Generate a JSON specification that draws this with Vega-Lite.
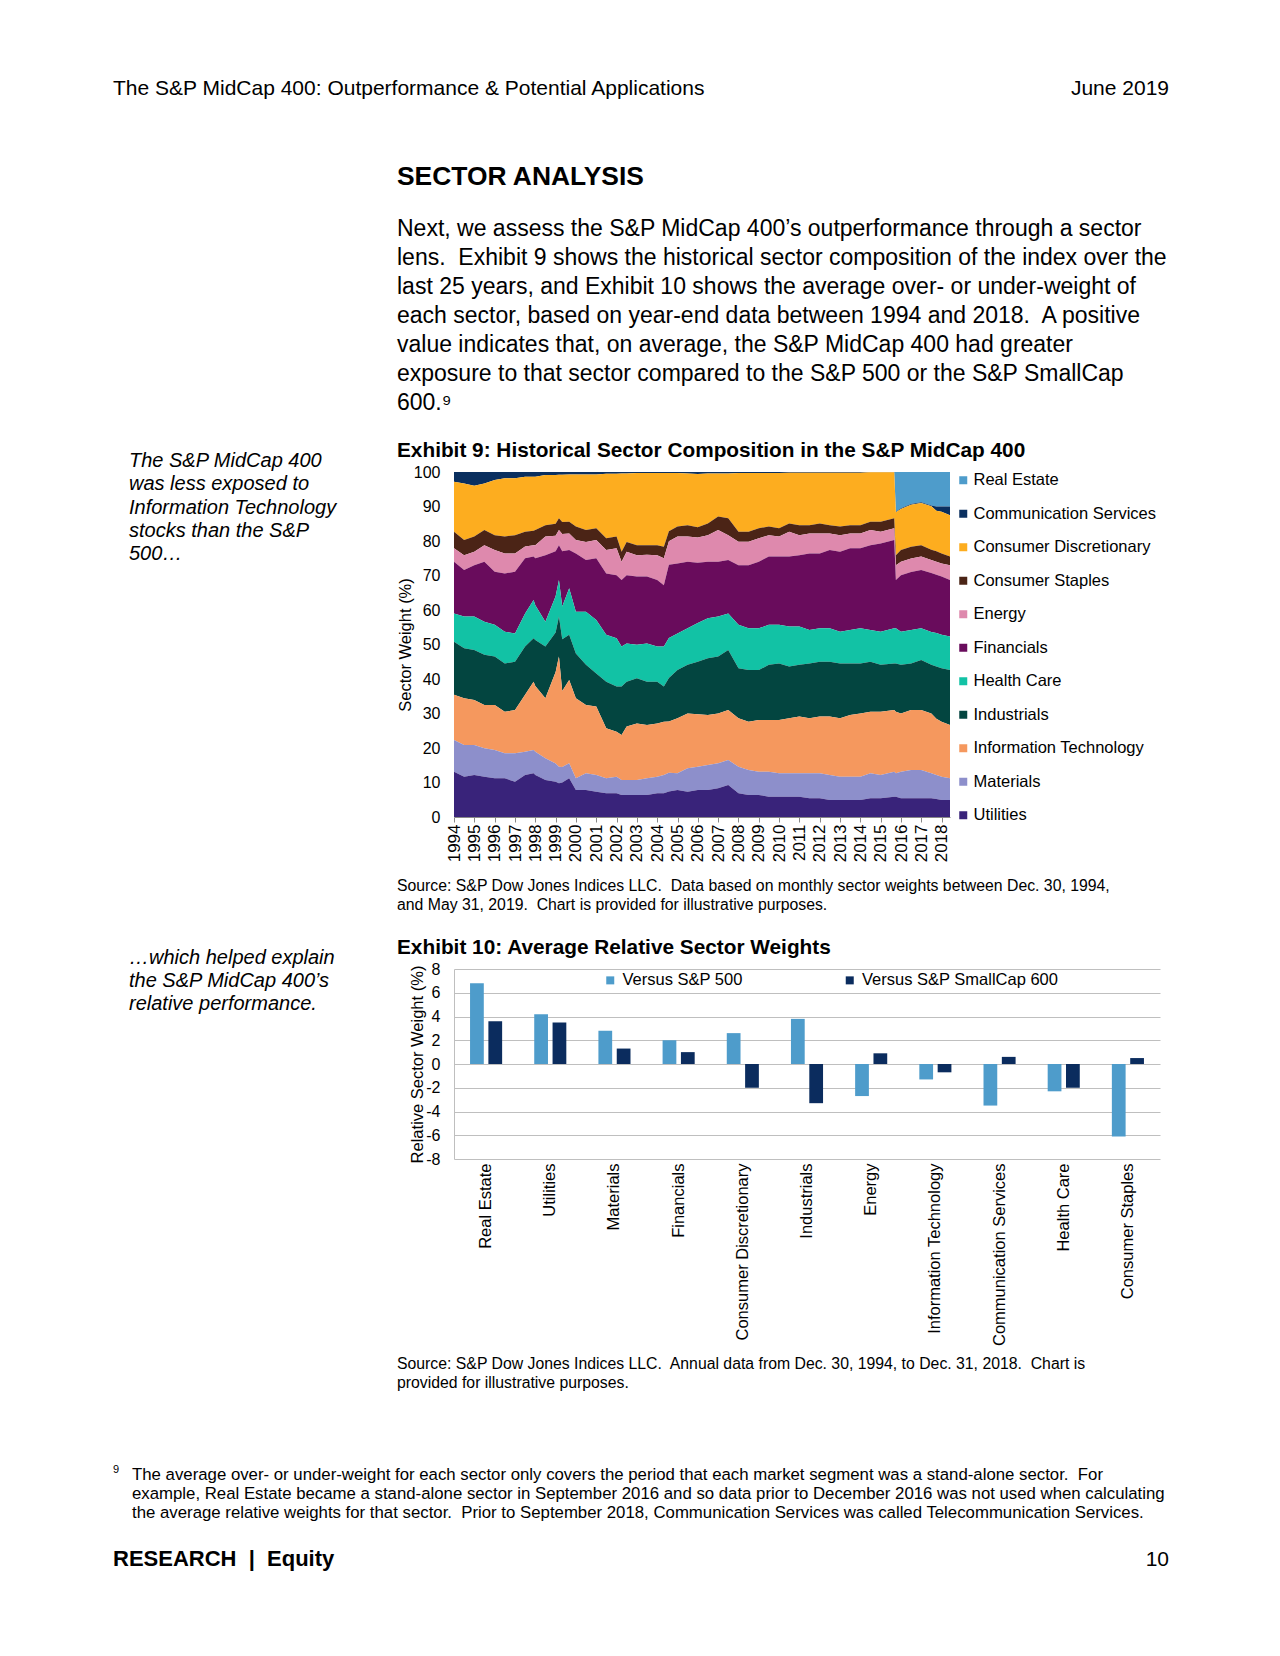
{
  "$schema": "https://vega.github.io/schema/vega-lite/v6.json",
  "background": "white",
  "padding": 0,
  "autosize": {"type": "pad"},
  "columns": 2,
  "align": "none",
  "bounds": "flush",
  "spacing": 0,
  "resolve": {"scale": {"color": "independent", "xOffset": "independent"}, "legend": {"color": "independent"}},
  "config": {
    "font": "Liberation Sans",
    "view": {"stroke": null},
    "title": {"font": "Liberation Sans", "color": "#000000", "anchor": "start", "frame": "group", "baseline": "top", "fontWeight": "normal"},
    "axis": {"labelFont": "Liberation Sans", "titleFont": "Liberation Sans", "labelColor": "#000000", "titleColor": "#000000", "titleFontWeight": "normal"},
    "legend": {"labelFont": "Liberation Sans", "labelColor": "#000000"}
  },
  "datasets": {
    "sectors": [
      {"code": "RE", "sector": "Real Estate", "rank": 11},
      {"code": "CM", "sector": "Communication Services", "rank": 10},
      {"code": "CD", "sector": "Consumer Discretionary", "rank": 9},
      {"code": "CS", "sector": "Consumer Staples", "rank": 8},
      {"code": "EN", "sector": "Energy", "rank": 7},
      {"code": "FI", "sector": "Financials", "rank": 6},
      {"code": "HC", "sector": "Health Care", "rank": 5},
      {"code": "IN", "sector": "Industrials", "rank": 4},
      {"code": "IT", "sector": "Information Technology", "rank": 3},
      {"code": "MA", "sector": "Materials", "rank": 2},
      {"code": "UT", "sector": "Utilities", "rank": 1}
    ],
    "comp": [
      {"d": "1994-12-30", "RE": 0, "CM": 2.8, "CD": 14.5, "CS": 4.8, "EN": 3.9, "FI": 15.0, "HC": 8.2, "IN": 15.4, "IT": 13.1, "MA": 9.2, "UT": 13.1},
      {"d": "1995-06-30", "RE": 0, "CM": 3.3, "CD": 16.4, "CS": 4.4, "EN": 4.3, "FI": 13.5, "HC": 9.2, "IN": 14.5, "IT": 13.5, "MA": 9.2, "UT": 11.7},
      {"d": "1995-12-29", "RE": 0, "CM": 4.0, "CD": 14.7, "CS": 4.4, "EN": 3.9, "FI": 14.9, "HC": 9.7, "IN": 14.5, "IT": 13.0, "MA": 8.7, "UT": 12.2},
      {"d": "1996-06-28", "RE": 0, "CM": 3.3, "CD": 13.5, "CS": 4.4, "EN": 4.8, "FI": 17.4, "HC": 9.6, "IN": 14.5, "IT": 12.6, "MA": 8.2, "UT": 11.7},
      {"d": "1996-12-31", "RE": 0, "CM": 2.3, "CD": 16.0, "CS": 4.3, "EN": 6.3, "FI": 15.4, "HC": 9.2, "IN": 14.0, "IT": 13.1, "MA": 8.2, "UT": 11.2},
      {"d": "1997-06-30", "RE": 0, "CM": 1.8, "CD": 16.9, "CS": 4.9, "EN": 5.8, "FI": 16.9, "HC": 9.2, "IN": 14.0, "IT": 12.0, "MA": 7.3, "UT": 11.2},
      {"d": "1997-12-31", "RE": 0, "CM": 1.8, "CD": 16.5, "CS": 5.3, "EN": 5.3, "FI": 17.9, "HC": 8.2, "IN": 14.0, "IT": 12.5, "MA": 8.3, "UT": 10.2},
      {"d": "1998-06-30", "RE": 0, "CM": 1.4, "CD": 15.9, "CS": 4.3, "EN": 3.4, "FI": 16.0, "HC": 9.6, "IN": 14.0, "IT": 16.5, "MA": 6.7, "UT": 12.2},
      {"d": "1998-11-30", "RE": 0, "CM": 1.4, "CD": 15.6, "CS": 4.2, "EN": 3.3, "FI": 12.6, "HC": 11.1, "IN": 12.6, "IT": 19.8, "MA": 6.7, "UT": 12.7},
      {"d": "1998-12-31", "RE": 0, "CM": 1.4, "CD": 15.4, "CS": 4.4, "EN": 3.8, "FI": 13.6, "HC": 10.1, "IN": 13.3, "IT": 19.1, "MA": 6.7, "UT": 12.2},
      {"d": "1999-06-30", "RE": 0, "CM": 0.9, "CD": 14.5, "CS": 3.3, "EN": 5.4, "FI": 19.3, "HC": 7.2, "IN": 15.0, "IT": 17.4, "MA": 6.3, "UT": 10.7},
      {"d": "1999-12-31", "RE": 0, "CM": 0.9, "CD": 14.1, "CS": 3.5, "EN": 4.5, "FI": 13.0, "HC": 10.5, "IN": 11.5, "IT": 26.5, "MA": 5.3, "UT": 10.2},
      {"d": "2000-02-29", "RE": 0, "CM": 0.8, "CD": 12.6, "CS": 3.4, "EN": 4.4, "FI": 10.1, "HC": 10.6, "IN": 11.6, "IT": 31.9, "MA": 4.8, "UT": 9.8},
      {"d": "2000-04-28", "RE": 0, "CM": 0.8, "CD": 13.7, "CS": 3.5, "EN": 5.0, "FI": 16.0, "HC": 9.5, "IN": 15.0, "IT": 22.0, "MA": 4.5, "UT": 10.0},
      {"d": "2000-08-31", "RE": 0, "CM": 0.7, "CD": 13.7, "CS": 3.4, "EN": 4.8, "FI": 11.1, "HC": 13.5, "IN": 13.1, "IT": 24.1, "MA": 4.4, "UT": 11.2},
      {"d": "2000-12-29", "RE": 0, "CM": 0.7, "CD": 15.1, "CS": 3.9, "EN": 3.9, "FI": 16.9, "HC": 12.1, "IN": 13.0, "IT": 23.2, "MA": 3.4, "UT": 7.8},
      {"d": "2001-06-29", "RE": 0, "CM": 0.7, "CD": 16.1, "CS": 3.5, "EN": 5.2, "FI": 15.0, "HC": 15.4, "IN": 11.6, "IT": 19.8, "MA": 4.9, "UT": 7.8},
      {"d": "2001-12-31", "RE": 0, "CM": 0.7, "CD": 15.6, "CS": 3.4, "EN": 5.3, "FI": 17.9, "HC": 15.5, "IN": 9.6, "IT": 19.8, "MA": 4.9, "UT": 7.3},
      {"d": "2002-06-28", "RE": 0, "CM": 0.5, "CD": 18.7, "CS": 3.4, "EN": 6.8, "FI": 17.8, "HC": 13.6, "IN": 13.5, "IT": 14.5, "MA": 4.3, "UT": 6.9},
      {"d": "2002-12-31", "RE": 0, "CM": 0.5, "CD": 18.2, "CS": 3.4, "EN": 7.8, "FI": 18.3, "HC": 14.0, "IN": 13.1, "IT": 13.0, "MA": 4.8, "UT": 6.9},
      {"d": "2003-03-31", "RE": 0, "CM": 0.4, "CD": 22.7, "CS": 2.9, "EN": 5.3, "FI": 19.3, "HC": 11.6, "IN": 14.0, "IT": 13.1, "MA": 4.3, "UT": 6.4},
      {"d": "2003-06-30", "RE": 0, "CM": 0.4, "CD": 19.9, "CS": 2.8, "EN": 6.8, "FI": 19.8, "HC": 11.1, "IN": 13.0, "IT": 15.5, "MA": 4.3, "UT": 6.4},
      {"d": "2003-12-31", "RE": 0, "CM": 0.3, "CD": 20.9, "CS": 2.9, "EN": 6.2, "FI": 19.8, "HC": 9.7, "IN": 13.1, "IT": 16.4, "MA": 4.3, "UT": 6.4},
      {"d": "2004-06-30", "RE": 0, "CM": 0.3, "CD": 20.9, "CS": 2.8, "EN": 6.3, "FI": 19.4, "HC": 11.1, "IN": 12.5, "IT": 15.5, "MA": 4.8, "UT": 6.4},
      {"d": "2004-12-31", "RE": 0, "CM": 0.3, "CD": 20.9, "CS": 2.9, "EN": 7.2, "FI": 19.3, "HC": 10.2, "IN": 12.1, "IT": 15.4, "MA": 4.8, "UT": 6.9},
      {"d": "2005-04-29", "RE": 0, "CM": 0.3, "CD": 21.4, "CS": 3.3, "EN": 7.8, "FI": 17.8, "HC": 11.6, "IN": 10.2, "IT": 15.4, "MA": 5.3, "UT": 6.9},
      {"d": "2005-07-29", "RE": 0, "CM": 0.3, "CD": 16.9, "CS": 2.9, "EN": 6.8, "FI": 21.2, "HC": 11.6, "IN": 12.6, "IT": 14.9, "MA": 5.4, "UT": 7.4},
      {"d": "2005-12-30", "RE": 0, "CM": 0.3, "CD": 15.5, "CS": 2.9, "EN": 7.8, "FI": 20.3, "HC": 10.6, "IN": 14.0, "IT": 15.9, "MA": 4.9, "UT": 7.8},
      {"d": "2006-06-30", "RE": 0, "CM": 0.4, "CD": 15.0, "CS": 3.3, "EN": 7.3, "FI": 19.3, "HC": 10.6, "IN": 14.1, "IT": 15.9, "MA": 6.8, "UT": 7.3},
      {"d": "2006-12-29", "RE": 0, "CM": 0.6, "CD": 15.4, "CS": 3.0, "EN": 7.3, "FI": 17.5, "HC": 11.2, "IN": 15.2, "IT": 15.2, "MA": 6.8, "UT": 7.8},
      {"d": "2007-06-29", "RE": 0, "CM": 0.4, "CD": 14.5, "CS": 3.4, "EN": 7.7, "FI": 16.4, "HC": 11.6, "IN": 16.4, "IT": 14.5, "MA": 7.3, "UT": 7.8},
      {"d": "2007-12-31", "RE": 0, "CM": 0.4, "CD": 12.5, "CS": 3.9, "EN": 9.2, "FI": 15.9, "HC": 11.6, "IN": 16.5, "IT": 14.4, "MA": 7.3, "UT": 8.3},
      {"d": "2008-06-30", "RE": 0, "CM": 0.4, "CD": 13.0, "CS": 4.9, "EN": 7.2, "FI": 15.5, "HC": 10.6, "IN": 17.4, "IT": 14.5, "MA": 7.2, "UT": 9.3},
      {"d": "2008-12-31", "RE": 0, "CM": 0.3, "CD": 17.0, "CS": 2.9, "EN": 6.8, "FI": 17.3, "HC": 12.6, "IN": 14.5, "IT": 14.0, "MA": 7.7, "UT": 6.9},
      {"d": "2009-06-30", "RE": 0, "CM": 0.3, "CD": 17.0, "CS": 2.9, "EN": 6.8, "FI": 18.3, "HC": 12.1, "IN": 15.0, "IT": 14.0, "MA": 7.2, "UT": 6.4},
      {"d": "2009-12-31", "RE": 0, "CM": 0.3, "CD": 16.0, "CS": 2.9, "EN": 6.8, "FI": 19.3, "HC": 12.1, "IN": 14.5, "IT": 15.0, "MA": 6.7, "UT": 6.4},
      {"d": "2010-06-30", "RE": 0, "CM": 0.3, "CD": 15.5, "CS": 2.5, "EN": 6.2, "FI": 19.8, "HC": 11.6, "IN": 16.0, "IT": 15.0, "MA": 7.2, "UT": 5.9},
      {"d": "2010-12-31", "RE": 0, "CM": 0.3, "CD": 16.0, "CS": 2.4, "EN": 5.8, "FI": 19.8, "HC": 11.2, "IN": 16.4, "IT": 15.4, "MA": 6.8, "UT": 5.9},
      {"d": "2011-06-30", "RE": 0, "CM": 0.2, "CD": 14.7, "CS": 2.4, "EN": 7.2, "FI": 20.3, "HC": 11.6, "IN": 15.0, "IT": 15.9, "MA": 6.8, "UT": 5.9},
      {"d": "2011-12-30", "RE": 0, "CM": 0.2, "CD": 15.2, "CS": 2.9, "EN": 5.8, "FI": 20.7, "HC": 11.1, "IN": 15.0, "IT": 16.4, "MA": 6.8, "UT": 5.9},
      {"d": "2012-06-29", "RE": 0, "CM": 0.2, "CD": 15.2, "CS": 2.4, "EN": 5.8, "FI": 22.2, "HC": 9.7, "IN": 15.9, "IT": 15.9, "MA": 7.3, "UT": 5.4},
      {"d": "2012-12-31", "RE": 0, "CM": 0.2, "CD": 14.7, "CS": 2.9, "EN": 5.8, "FI": 21.7, "HC": 9.7, "IN": 15.9, "IT": 16.4, "MA": 7.3, "UT": 5.4},
      {"d": "2013-06-28", "RE": 0, "CM": 0.2, "CD": 15.2, "CS": 2.4, "EN": 4.8, "FI": 22.7, "HC": 9.7, "IN": 15.9, "IT": 16.9, "MA": 7.3, "UT": 4.9},
      {"d": "2013-12-31", "RE": 0, "CM": 0.2, "CD": 15.6, "CS": 2.5, "EN": 4.8, "FI": 23.2, "HC": 9.2, "IN": 15.9, "IT": 16.9, "MA": 6.8, "UT": 4.9},
      {"d": "2014-06-30", "RE": 0, "CM": 0.2, "CD": 15.2, "CS": 2.4, "EN": 4.3, "FI": 23.7, "HC": 9.7, "IN": 14.9, "IT": 17.9, "MA": 6.8, "UT": 4.9},
      {"d": "2014-12-31", "RE": 0, "CM": 0.2, "CD": 15.2, "CS": 2.4, "EN": 4.3, "FI": 23.2, "HC": 10.2, "IN": 14.5, "IT": 18.3, "MA": 6.8, "UT": 4.9},
      {"d": "2015-06-30", "RE": 0, "CM": 0.1, "CD": 14.3, "CS": 2.4, "EN": 4.4, "FI": 24.6, "HC": 9.2, "IN": 14.5, "IT": 17.8, "MA": 7.3, "UT": 5.4},
      {"d": "2015-12-31", "RE": 0, "CM": 0.1, "CD": 14.3, "CS": 2.9, "EN": 3.4, "FI": 25.6, "HC": 9.6, "IN": 13.6, "IT": 18.3, "MA": 6.8, "UT": 5.4},
      {"d": "2016-08-31", "RE": 0, "CM": 0.1, "CD": 13.3, "CS": 2.9, "EN": 3.4, "FI": 25.6, "HC": 10.2, "IN": 13.5, "IT": 17.9, "MA": 7.2, "UT": 5.9},
      {"d": "2016-09-30", "RE": 11.5, "CM": 0.2, "CD": 12.4, "CS": 2.9, "EN": 4.3, "FI": 14.0, "HC": 10.2, "IN": 14.0, "IT": 17.8, "MA": 6.8, "UT": 5.9},
      {"d": "2016-12-30", "RE": 10.5, "CM": 0.2, "CD": 11.9, "CS": 3.4, "EN": 3.9, "FI": 16.4, "HC": 9.6, "IN": 14.1, "IT": 16.9, "MA": 7.7, "UT": 5.4},
      {"d": "2017-06-30", "RE": 9.3, "CM": 0.2, "CD": 12.2, "CS": 3.4, "EN": 3.9, "FI": 16.8, "HC": 9.7, "IN": 13.5, "IT": 17.4, "MA": 8.2, "UT": 5.4},
      {"d": "2017-12-29", "RE": 8.8, "CM": 0.2, "CD": 12.2, "CS": 3.3, "EN": 3.9, "FI": 16.9, "HC": 9.2, "IN": 14.5, "IT": 17.4, "MA": 8.2, "UT": 5.4},
      {"d": "2018-06-29", "RE": 9.7, "CM": 0.2, "CD": 12.6, "CS": 3.0, "EN": 3.8, "FI": 17.1, "HC": 9.5, "IN": 14.1, "IT": 17.3, "MA": 7.3, "UT": 5.4},
      {"d": "2018-09-28", "RE": 10.0, "CM": 1.2, "CD": 11.8, "CS": 3.0, "EN": 3.8, "FI": 16.9, "HC": 9.7, "IN": 15.1, "IT": 16.3, "MA": 7.0, "UT": 5.2},
      {"d": "2018-12-31", "RE": 10.0, "CM": 1.5, "CD": 12.1, "CS": 2.9, "EN": 3.8, "FI": 16.9, "HC": 9.7, "IN": 15.5, "IT": 15.9, "MA": 6.8, "UT": 4.9},
      {"d": "2019-05-31", "RE": 10.0, "CM": 2.5, "CD": 12.0, "CS": 2.5, "EN": 4.3, "FI": 16.4, "HC": 9.7, "IN": 15.9, "IT": 15.5, "MA": 6.3, "UT": 4.9}
    ],
    "rel": [
      {"sector": "Real Estate", "versus": "Versus S&P 500", "value": 6.8},
      {"sector": "Real Estate", "versus": "Versus S&P SmallCap 600", "value": 3.6},
      {"sector": "Utilities", "versus": "Versus S&P 500", "value": 4.2},
      {"sector": "Utilities", "versus": "Versus S&P SmallCap 600", "value": 3.5},
      {"sector": "Materials", "versus": "Versus S&P 500", "value": 2.8},
      {"sector": "Materials", "versus": "Versus S&P SmallCap 600", "value": 1.3},
      {"sector": "Financials", "versus": "Versus S&P 500", "value": 2.0},
      {"sector": "Financials", "versus": "Versus S&P SmallCap 600", "value": 1.0},
      {"sector": "Consumer Discretionary", "versus": "Versus S&P 500", "value": 2.6},
      {"sector": "Consumer Discretionary", "versus": "Versus S&P SmallCap 600", "value": -2.0},
      {"sector": "Industrials", "versus": "Versus S&P 500", "value": 3.8},
      {"sector": "Industrials", "versus": "Versus S&P SmallCap 600", "value": -3.3},
      {"sector": "Energy", "versus": "Versus S&P 500", "value": -2.7},
      {"sector": "Energy", "versus": "Versus S&P SmallCap 600", "value": 0.9},
      {"sector": "Information Technology", "versus": "Versus S&P 500", "value": -1.3},
      {"sector": "Information Technology", "versus": "Versus S&P SmallCap 600", "value": -0.7},
      {"sector": "Communication Services", "versus": "Versus S&P 500", "value": -3.5},
      {"sector": "Communication Services", "versus": "Versus S&P SmallCap 600", "value": 0.6},
      {"sector": "Health Care", "versus": "Versus S&P 500", "value": -2.3},
      {"sector": "Health Care", "versus": "Versus S&P SmallCap 600", "value": -2.0},
      {"sector": "Consumer Staples", "versus": "Versus S&P 500", "value": -6.1},
      {"sector": "Consumer Staples", "versus": "Versus S&P SmallCap 600", "value": 0.5}
    ]
  },
  "concat": [
    {"width": 454, "height": 120, "data": {"values": []}, "mark": "point",
     "title": {"text": "The S&P MidCap 400: Outperformance & Potential Applications", "fontSize": 21, "dx": 113, "offset": -99.4}},
    {"width": 826, "height": 120, "data": {"values": []}, "mark": "point",
     "title": {"text": "June 2019", "fontSize": 21, "anchor": "end", "dx": -111, "offset": -99.4}},

    {"width": 454, "height": 80, "data": {"values": []}, "mark": "point"},
    {"width": 826, "height": 80, "data": {"values": []}, "mark": "point",
     "title": {"text": "SECTOR ANALYSIS", "fontSize": 26.4, "fontWeight": "bold", "dx": -57, "offset": -70.5}},

    {"width": 454, "height": 272, "data": {"values": []}, "mark": "point"},
    {"width": 826, "height": 272, "data": {"values": []}, "mark": "point",
     "title": {"text": [
       "Next, we assess the S&P MidCap 400’s outperformance through a sector",
       "lens.\u00a0 Exhibit 9 shows the historical sector composition of the index over the",
       "last 25 years, and Exhibit 10 shows the average over- or under-weight of",
       "each sector, based on year-end data between 1994 and 2018.\u00a0 A positive",
       "value indicates that, on average, the S&P MidCap 400 had greater",
       "exposure to that sector compared to the S&P 500 or the S&P SmallCap",
       "600.⁹"], "fontSize": 23, "lineHeight": 29, "dx": -57, "offset": -215.3}},

    {"width": 454, "height": 345, "data": {"values": []}, "mark": "point",
     "title": {"text": ["The S&P MidCap 400", "was less exposed to", "Information Technology", "stocks than the S&P", "500…"],
               "fontSize": 20, "fontStyle": "italic", "lineHeight": 23.3, "dx": 129, "offset": -92.2}},
    {
      "width": 496, "height": 345,
      "data": {"name": "comp"},
      "transform": [
        {"fold": ["RE", "CM", "CD", "CS", "EN", "FI", "HC", "IN", "IT", "MA", "UT"], "as": ["code", "weight"]},
        {"lookup": "code", "from": {"data": {"name": "sectors"}, "key": "code", "fields": ["sector", "rank"]}}
      ],
      "mark": {"type": "area", "interpolate": "linear"},
      "title": {"text": "Exhibit 9: Historical Sector Composition in the S&P MidCap 400", "fontSize": 20.8, "fontWeight": "bold", "dx": -57, "offset": 2},
      "encoding": {
        "x": {"field": "d", "type": "temporal",
              "scale": {"type": "utc", "domain": [{"year": 1994, "month": 12, "date": 30, "utc": true}, {"year": 2019, "month": 5, "date": 31, "utc": true}]},
              "axis": {"title": null, "labelExpr": "utcFormat(datum.value, '%Y')", "labelAngle": 270, "labelAlign": "right", "labelBaseline": "middle",
                       "labelFontSize": 17, "labelPadding": 2, "ticks": true, "tickSize": 5, "tickColor": "#888888", "domain": true, "domainColor": "#888888",
                       "grid": false, "labelOverlap": false, "labelFlush": false,
                       "values": [
                         {"year": 1994, "month": 12, "date": 30, "utc": true},
                         {"year": 1995, "month": 12, "date": 31, "utc": true},
                         {"year": 1996, "month": 12, "date": 31, "utc": true},
                         {"year": 1997, "month": 12, "date": 31, "utc": true},
                         {"year": 1998, "month": 12, "date": 31, "utc": true},
                         {"year": 1999, "month": 12, "date": 31, "utc": true},
                         {"year": 2000, "month": 12, "date": 31, "utc": true},
                         {"year": 2001, "month": 12, "date": 31, "utc": true},
                         {"year": 2002, "month": 12, "date": 31, "utc": true},
                         {"year": 2003, "month": 12, "date": 31, "utc": true},
                         {"year": 2004, "month": 12, "date": 31, "utc": true},
                         {"year": 2005, "month": 12, "date": 31, "utc": true},
                         {"year": 2006, "month": 12, "date": 31, "utc": true},
                         {"year": 2007, "month": 12, "date": 31, "utc": true},
                         {"year": 2008, "month": 12, "date": 31, "utc": true},
                         {"year": 2009, "month": 12, "date": 31, "utc": true},
                         {"year": 2010, "month": 12, "date": 31, "utc": true},
                         {"year": 2011, "month": 12, "date": 31, "utc": true},
                         {"year": 2012, "month": 12, "date": 31, "utc": true},
                         {"year": 2013, "month": 12, "date": 31, "utc": true},
                         {"year": 2014, "month": 12, "date": 31, "utc": true},
                         {"year": 2015, "month": 12, "date": 31, "utc": true},
                         {"year": 2016, "month": 12, "date": 31, "utc": true},
                         {"year": 2017, "month": 12, "date": 31, "utc": true},
                         {"year": 2018, "month": 12, "date": 31, "utc": true}
                       ]}},
        "y": {"field": "weight", "type": "quantitative", "stack": "zero",
              "scale": {"domain": [0, 100], "nice": false},
              "axis": {"title": "Sector Weight (%)", "titleFontSize": 16.5, "titlePadding": 0, "values": [0, 10, 20, 30, 40, 50, 60, 70, 80, 90, 100],
                       "labelFontSize": 16, "labelPadding": 14, "ticks": false, "domain": false, "grid": false}},
        "color": {"field": "sector", "type": "nominal",
                  "scale": {"domain": ["Real Estate", "Communication Services", "Consumer Discretionary", "Consumer Staples", "Energy", "Financials", "Health Care", "Industrials", "Information Technology", "Materials", "Utilities"],
                            "range": ["#4e9ccb", "#0a2f5f", "#fdad1f", "#4b2416", "#de89ad", "#690c5c", "#12c2a5", "#034540", "#f5985e", "#8d8fcb", "#39237a"]},
                  "legend": {"title": null, "orient": "right", "offset": 5, "padding": 0, "symbolType": "square", "symbolSize": 64, "symbolStrokeWidth": 0,
                             "labelFontSize": 16.5, "rowPadding": 16.5, "labelOffset": 2, "labelLimit": 320}},
        "order": {"field": "rank", "type": "quantitative"}
      }
    },

    {"width": 454, "height": 152, "data": {"values": []}, "mark": "point"},
    {"width": 826, "height": 152, "data": {"values": []}, "mark": "point",
     "title": {"text": ["Source: S&P Dow Jones Indices LLC.\u00a0 Data based on monthly sector weights between Dec. 30, 1994,",
                        "and May 31, 2019.\u00a0 Chart is provided for illustrative purposes."],
               "fontSize": 15.8, "lineHeight": 18.5, "dx": -57, "offset": -96.4}},

    {"width": 454, "height": 190, "data": {"values": []}, "mark": "point",
     "title": {"text": ["…which helped explain", "the S&P MidCap 400’s", "relative performance."],
               "fontSize": 20, "fontStyle": "italic", "lineHeight": 23, "dx": 129, "offset": -44.8}},
    {
      "width": 706, "height": 190,
      "data": {"name": "rel"},
      "mark": {"type": "bar"},
      "title": {"text": "Exhibit 10: Average Relative Sector Weights", "fontSize": 20.8, "fontWeight": "bold", "dx": -57, "offset": 2},
      "encoding": {
        "x": {"field": "sector", "type": "nominal",
              "sort": ["Real Estate", "Utilities", "Materials", "Financials", "Consumer Discretionary", "Industrials", "Energy", "Information Technology", "Communication Services", "Health Care", "Consumer Staples"],
              "scale": {"paddingInner": 0.5, "paddingOuter": 0.25},
              "axis": {"title": null, "labelAngle": 270, "labelAlign": "right", "labelBaseline": "middle", "labelFontSize": 16.5, "ticks": false, "domain": false, "labelPadding": 4, "labelLimit": 250}},
        "xOffset": {"field": "versus", "type": "nominal", "sort": ["Versus S&P 500", "Versus S&P SmallCap 600"],
                    "scale": {"paddingInner": 0.25, "paddingOuter": 0}},
        "y": {"field": "value", "type": "quantitative",
              "scale": {"domain": [-8, 8], "nice": false},
              "axis": {"title": "Relative Sector Weight (%)", "titleFontSize": 16.5, "titlePadding": 0, "values": [-8, -6, -4, -2, 0, 2, 4, 6, 8],
                       "labelExpr": "toString(datum.value)",
                       "grid": true, "gridColor": "#bfbfbf", "gridWidth": 1, "domain": true, "domainColor": "#bfbfbf", "ticks": false,
                       "labelFontSize": 16, "labelPadding": 14}},
        "color": {"field": "versus", "type": "nominal",
                  "scale": {"domain": ["Versus S&P 500", "Versus S&P SmallCap 600"], "range": ["#4e9ccb", "#0b2c5e"]},
                  "legend": {"title": null, "orient": "none", "legendX": 148, "legendY": 3, "direction": "horizontal", "columns": 2, "padding": 0,
                             "symbolType": "square", "symbolSize": 64, "symbolStrokeWidth": 0, "labelFontSize": 16.5, "columnPadding": 98.5, "labelOffset": 4, "labelLimit": 300}}
      }
    },

    {"width": 454, "height": 241, "data": {"values": []}, "mark": "point"},
    {"width": 826, "height": 241, "data": {"values": []}, "mark": "point",
     "title": {"text": ["Source: S&P Dow Jones Indices LLC.\u00a0 Annual data from Dec. 30, 1994, to Dec. 31, 2018.\u00a0 Chart is",
                        "provided for illustrative purposes."],
               "fontSize": 15.8, "lineHeight": 19, "dx": -57, "offset": -232.4}},

    {"width": 454, "height": 130, "data": {"values": []}, "mark": "point",
     "title": {"text": "9", "fontSize": 11, "dx": 113, "offset": -75.3}},
    {"width": 826, "height": 130, "data": {"values": []}, "mark": "point",
     "title": {"text": ["The average over- or under-weight for each sector only covers the period that each market segment was a stand-alone sector.\u00a0 For",
                        "example, Real Estate became a stand-alone sector in September 2016 and so data prior to December 2016 was not used when calculating",
                        "the average relative weights for that sector.\u00a0 Prior to September 2018, Communication Services was called Telecommunication Services."],
               "fontSize": 16.8, "lineHeight": 19.4, "dx": -322, "offset": -122.2}},

    {"width": 454, "height": 126, "data": {"values": []}, "mark": "point",
     "title": {"text": "RESEARCH\u00a0 |\u00a0 Equity", "fontSize": 22, "fontWeight": "bold", "dx": 113, "offset": -40.6}},
    {"width": 826, "height": 126, "data": {"values": []}, "mark": "point",
     "title": {"text": "10", "fontSize": 21, "anchor": "end", "dx": -111, "offset": -40.4}}
  ]
}
